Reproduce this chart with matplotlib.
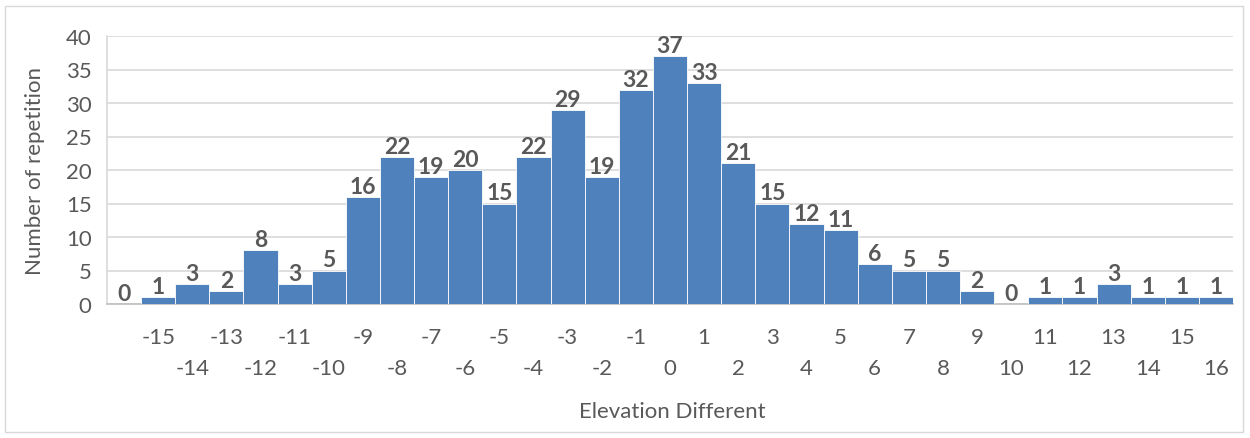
import matplotlib.pyplot as plt
from matplotlib.patches import Rectangle

# elevation difference classes and how often each one occurred
categories = list(range(-16, 17))
counts = [0, 1, 3, 2, 8, 3, 5, 16, 22, 19, 20, 15, 22, 29, 19, 32, 37,
          33, 21, 15, 12, 11, 6, 5, 5, 2, 0, 1, 1, 3, 1, 1, 1]
# the first class carries no axis label
tick_labels = [""] + [str(c) for c in categories[1:]]

bar_color = "#4F81BD"
text_color = "#595959"
grid_color = "#D9D9D9"

plt.rcParams["font.family"] = ["Lato", "DejaVu Sans"]

fig = plt.figure(figsize=(12.5, 4.39), dpi=100)
ax = fig.add_axes([107 / 1250, 1 - 305 / 439, (1233 - 107) / 1250, (305 - 37) / 439])

x = list(range(len(categories)))
bars = ax.bar(x, counts, width=1.0, color=bar_color, edgecolor="white",
              linewidth=0.6, zorder=3)

for xi, v in zip(x, counts):
    ax.annotate(str(v), (xi, v), xytext=(0, 0), textcoords="offset points",
                ha="center", va="bottom", fontsize=16.5, fontweight="bold",
                color=text_color, zorder=4)

ax.set_xlim(-0.5, len(categories) - 0.5)
ax.set_ylim(0, 40)
ax.set_yticks(range(0, 41, 5))
ax.yaxis.grid(True, color=grid_color, linewidth=1.2, zorder=0)
ax.tick_params(axis="y", length=0, labelsize=16, labelcolor=text_color, pad=11)
ax.tick_params(axis="x", length=0)
ax.set_xticks([])

# staggered category labels, odd positions on the upper row
for xi, lab in zip(x, tick_labels):
    row = 0 if xi % 2 == 1 else 1
    ax.annotate(lab, (xi, 0), xycoords=("data", "axes fraction"),
                xytext=(0, -24 - row * 22), textcoords="offset points",
                ha="center", va="center", fontsize=16, color=text_color)

for side in ["top", "right"]:
    ax.spines[side].set_visible(False)
ax.spines["left"].set_color(grid_color)
ax.spines["left"].set_linewidth(1.2)
ax.spines["bottom"].set_color("#BFBFBF")
ax.spines["bottom"].set_linewidth(1.2)

ax.set_ylabel("Number of repetition", fontsize=16, color=text_color, labelpad=15)
fig.text(672 / 1250, 1 - 412 / 439, "Elevation Different", ha="center",
         va="center", fontsize=16, color=text_color)

fig.add_artist(Rectangle((5 / 1250, 1 - 433 / 439), 1238 / 1250, 426 / 439,
                         transform=fig.transFigure, fill=False,
                         edgecolor="#D9D9D9", linewidth=1.0))

fig.savefig("out.png", dpi=100)
